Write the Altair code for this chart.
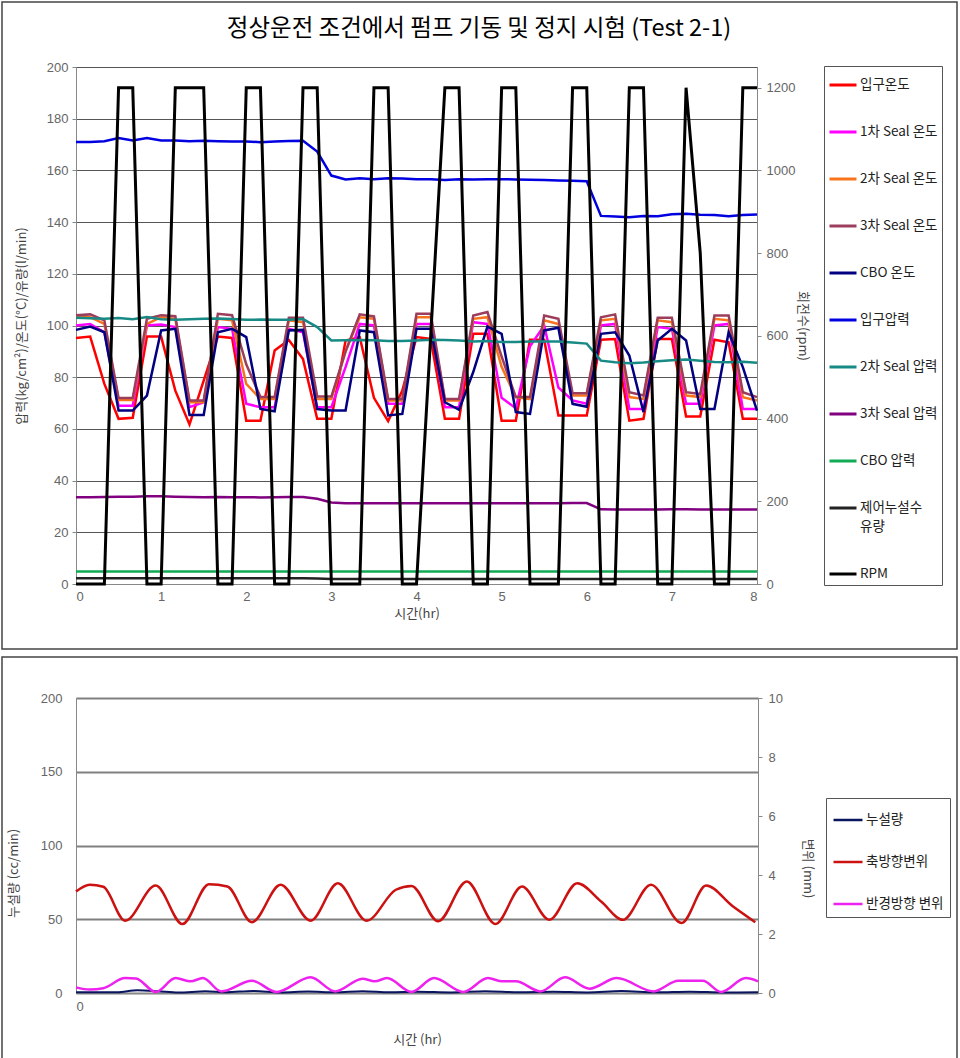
import altair as alt
import pandas as pd

FONT = "'Liberation Sans', 'Noto Sans CJK KR', sans-serif"
KFONT = "'Noto Sans CJK KR', sans-serif"

# ---------------- top panel data (10-minute samples, 0..8 hr) ----------------
minutes = list(range(0, 481, 10))
time_hr = [m / 60 for m in minutes]

inlet_temp = [95.2, 95.7, 77.4, 63.9, 64.3, 95.7, 95.7, 74.8, 61.7, 78.7,
              95.7, 95.2, 63.2, 63.2, 90.3, 94.4, 87.0, 63.9, 63.9, 94.2,
              95.5, 72.0, 63.0, 74.8, 95.5, 94.8, 63.9, 63.9, 96.8, 96.8,
              63.2, 63.2, 94.5, 94.5, 65.2, 65.2, 65.2, 94.5, 94.8, 63.2,
              63.9, 94.8, 94.8, 64.8, 64.8, 94.5, 93.5, 63.9, 63.9]
seal1_temp = [100.0, 100.6, 97.4, 69.0, 69.0, 100.0, 100.4, 99.4, 68.4, 70.3,
              99.4, 98.7, 69.7, 68.4, 68.4, 98.7, 97.4, 68.4, 68.4, 83.9,
              100.6, 100.0, 69.7, 69.7, 100.6, 100.6, 68.4, 68.4, 101.3, 100.6,
              72.0, 68.0, 92.0, 100.0, 76.0, 71.0, 69.7, 100.0, 100.6, 67.7,
              67.7, 99.4, 98.7, 69.7, 69.7, 100.0, 100.6, 67.7, 67.7]
seal2_temp = [103.2, 103.2, 100.6, 71.2, 71.2, 100.6, 103.2, 102.6, 70.3, 70.3,
              102.6, 102.0, 77.4, 71.6, 71.6, 102.0, 101.3, 71.6, 71.6, 90.0,
              103.2, 102.6, 71.0, 71.0, 103.2, 103.2, 71.0, 71.0, 102.6, 103.2,
              84.0, 72.3, 71.5, 102.0, 100.6, 72.9, 72.9, 102.0, 102.6, 72.3,
              71.6, 102.0, 101.3, 72.9, 72.3, 102.6, 102.0, 72.3, 71.0]
seal3_temp = [104.0, 104.3, 102.0, 72.0, 72.0, 102.6, 104.0, 103.6, 71.0, 71.0,
              104.5, 104.0, 85.0, 72.3, 72.3, 103.0, 103.0, 72.5, 72.5, 90.0,
              104.3, 103.5, 71.6, 71.6, 104.5, 104.5, 71.6, 71.6, 103.9, 105.2,
              88.0, 72.3, 72.3, 103.9, 102.6, 73.8, 73.8, 103.2, 104.3, 74.2,
              72.9, 103.0, 103.0, 74.2, 73.5, 103.9, 103.9, 74.2, 72.3]
cbo_temp = [98.3, 99.6, 97.4, 67.1, 67.1, 72.9, 98.1, 98.7, 65.4, 65.4,
            97.4, 98.7, 95.5, 67.7, 66.8, 98.1, 98.3, 67.7, 67.1, 67.1,
            98.1, 97.4, 65.2, 65.8, 98.7, 98.7, 70.3, 67.4, 82.0, 99.6,
            96.8, 66.5, 65.8, 98.1, 99.1, 69.7, 68.6, 96.8, 97.4, 88.4,
            66.5, 94.2, 98.7, 94.2, 67.7, 67.7, 97.4, 83.9, 67.1]
inlet_press = [171.0, 171.0, 171.3, 172.5, 171.6, 172.5, 171.6, 171.6, 171.3, 171.5,
               171.3, 171.2, 171.2, 170.9, 171.2, 171.4, 171.5, 167.3, 158.0, 156.5,
               157.0, 156.6, 157.0, 156.9, 156.6, 156.6, 156.3, 156.6, 156.5, 156.6,
               156.6, 156.5, 156.4, 156.3, 156.1, 156.0, 155.8, 142.4, 142.2, 141.9,
               142.4, 142.3, 143.0, 143.2, 142.8, 142.7, 142.3, 142.7, 142.9]
seal2_press = [103.0, 102.8, 102.6, 102.9, 102.4, 103.3, 102.4, 102.2, 102.4, 102.6,
               102.7, 102.5, 102.2, 102.3, 102.2, 102.2, 102.5, 99.4, 94.2, 94.3,
               94.4, 94.3, 94.0, 94.0, 94.2, 94.5, 94.4, 94.2, 93.8, 94.0,
               93.6, 93.6, 93.8, 93.8, 93.8, 93.4, 93.0, 86.4, 85.8, 85.4,
               85.7, 86.2, 86.6, 86.8, 86.4, 85.9, 85.8, 86.0, 85.6]
seal3_press = [33.6, 33.6, 33.7, 33.8, 33.8, 33.9, 33.9, 33.8, 33.7, 33.6,
               33.7, 33.6, 33.6, 33.5, 33.6, 33.7, 33.7, 33.0, 31.5, 31.2,
               31.2, 31.2, 31.2, 31.2, 31.2, 31.2, 31.2, 31.2, 31.2, 31.2,
               31.2, 31.2, 31.2, 31.2, 31.2, 31.3, 31.3, 28.9, 28.8, 28.8,
               28.8, 28.8, 28.9, 28.9, 28.8, 28.8, 28.8, 28.8, 28.8]
cbo_press = [4.8, 4.8, 4.8, 4.8, 4.8, 4.8, 4.8, 4.8, 4.8, 4.8,
             4.8, 4.8, 4.8, 4.8, 4.8, 4.8, 4.8, 4.8, 4.8, 4.8,
             4.8, 4.8, 4.8, 4.8, 4.8, 4.8, 4.8, 4.8, 4.8, 4.8,
             4.8, 4.8, 4.8, 4.8, 4.8, 4.8, 4.8, 4.8, 4.8, 4.8,
             4.8, 4.8, 4.8, 4.8, 4.8, 4.8, 4.8, 4.8, 4.8]
leak_flow = [2.2, 2.2, 2.2, 2.2, 2.2, 2.2, 2.2, 2.2, 2.2, 2.2,
             2.2, 2.2, 2.2, 2.2, 2.2, 2.2, 2.2, 2.1, 1.9, 1.9,
             1.9, 1.9, 1.9, 1.9, 1.9, 1.9, 1.9, 1.9, 1.9, 1.9,
             1.9, 1.9, 1.9, 1.9, 1.9, 1.9, 1.9, 1.9, 1.9, 1.9,
             1.9, 1.9, 1.9, 1.9, 1.9, 1.9, 1.9, 1.9, 1.9]
rpm = [0, 0, 0, 1200, 1200, 0, 0, 1200, 1200, 1200,
       0, 0, 1200, 1200, 0, 0, 1200, 1200, 0, 0,
       0, 1200, 1200, 0, 0, 600, 1200, 1200, 0, 0,
       1200, 1200, 0, 0, 0, 1200, 1200, 0, 0, 1200,
       1200, 0, 0, 1200, 800, 0, 0, 1200, 1200]

top_names = ['입구온도', '1차 Seal 온도', '2차 Seal 온도', '3차 Seal 온도', 'CBO 온도',
             '입구압력', '2차 Seal 압력', '3차 Seal 압력', 'CBO 압력', '제어누설수 유량', 'RPM']
top_colors = ['#ff0000', '#ff00ff', '#f7731c', '#9b3d5b', '#000080',
              '#0000e0', '#178a85', '#800080', '#11aa55', '#222222', '#000000']
top_series = [inlet_temp, seal1_temp, seal2_temp, seal3_temp, cbo_temp,
              inlet_press, seal2_press, seal3_press, cbo_press, leak_flow, rpm]

rows = []
for name, vals in zip(top_names, top_series):
    side = 'right' if name == 'RPM' else 'left'
    for t, v in zip(time_hr, vals):
        rows.append({'t': t, 'series': name, 'value': v, 'side': side})
df_top = pd.DataFrame(rows)

# ---------------- bottom panel data ----------------
axial_t = [0.0, 0.16, 0.32, 0.576, 0.936, 1.248, 1.56, 1.776, 2.064, 2.4,
           2.752, 3.072, 3.408, 3.752, 3.936, 4.248, 4.584, 4.92, 5.232, 5.552,
           5.88, 6.16, 6.416, 6.744, 7.104, 7.392, 7.7, 7.968]
axial_mm = [3.44, 3.67, 3.60, 2.45, 3.64, 2.34, 3.69, 3.61, 2.40, 3.67,
            2.45, 3.72, 2.45, 3.50, 3.63, 2.43, 3.78, 2.34, 3.61, 2.48,
            3.72, 3.10, 2.48, 3.67, 2.37, 3.64, 2.95, 2.40]
radial_t = [0.0, 0.16, 0.32, 0.576, 0.704, 0.936, 1.168, 1.344, 1.488, 1.704,
            2.064, 2.352, 2.752, 3.04, 3.36, 3.504, 3.648, 3.936, 4.2, 4.544,
            4.832, 5.0, 5.16, 5.448, 5.736, 6.024, 6.344, 6.776, 7.064, 7.352,
            7.568, 7.856, 8.0]
radial_mm = [0.19, 0.115, 0.16, 0.505, 0.49, 0.035, 0.505, 0.395, 0.505, 0.055,
             0.415, 0.035, 0.53, 0.055, 0.485, 0.395, 0.505, 0.035, 0.505, 0.035,
             0.505, 0.395, 0.395, 0.055, 0.53, 0.145, 0.505, 0.055, 0.415, 0.415,
             0.035, 0.505, 0.395]
leak_t = [0.0, 0.48, 0.72, 0.96, 1.2, 1.52, 1.76, 2.08, 2.4, 2.72,
          3.04, 3.36, 3.68, 4.0, 4.4, 4.8, 5.2, 5.6, 6.0, 6.4,
          6.8, 7.2, 7.6, 8.0]
leak_cc = [0.5, 0.5, 1.8, 1.2, 0.3, 1.2, 0.5, 1.4, 0.4, 1.0,
           0.5, 1.2, 0.5, 0.8, 0.4, 1.2, 0.5, 0.8, 0.4, 1.3,
           0.5, 0.9, 0.4, 0.5]

bot_names = ['누설량', '축방향변위', '반경방향 변위']
bot_colors = ['#0a1560', '#cc1111', '#ee22ee']
rows = []
for t, v in zip(leak_t, leak_cc):
    rows.append({'t': t, 'series': '누설량', 'value': v, 'side': 'left'})
for t, v in zip(axial_t, axial_mm):
    rows.append({'t': t, 'series': '축방향변위', 'value': v, 'side': 'right'})
for t, v in zip(radial_t, radial_mm):
    rows.append({'t': t, 'series': '반경방향 변위', 'value': v, 'side': 'right'})
df_bot = pd.DataFrame(rows)

one = alt.Data(values=[{}])

# ---------------- top panel ----------------
TW, TH = 681, 517
x_top = alt.X('t:Q', scale=alt.Scale(domain=[0, 8], nice=False),
              axis=alt.Axis(values=list(range(9)), title='시간(hr)', grid=False, ticks=False,
                            labelPadding=6, titlePadding=4, domainColor='#888'))
top_legend = alt.Legend(title=None, orient='none', legendX=748, legendY=-1,
                        symbolType='stroke', symbolSize=729, symbolStrokeWidth=3,
                        labelFont=KFONT, labelFontSize=13.5, labelColor='#222', labelOffset=2,
                        labelLimit=200, strokeColor='#555', padding=4, rowPadding=25,
                        labelExpr="datum.label == '제어누설수 유량' ? ['제어누설수', '유량'] : datum.label")
color_top = alt.Color('series:N', scale=alt.Scale(domain=top_names, range=top_colors), legend=top_legend)

top_left = alt.Chart(df_top).transform_filter(alt.datum.side == 'left').mark_line(strokeWidth=2.5).encode(
    x=x_top,
    y=alt.Y('value:Q', scale=alt.Scale(domain=[0, 200], nice=False),
            axis=alt.Axis(values=list(range(0, 201, 20)), title='압력(kg/cm²)/온도(°C)/유량(l/min)',
                          grid=True, gridColor='#555', gridWidth=1, tickSize=4, tickColor='#888',
                          domainColor='#888', labelPadding=4, titlePadding=18)),
    color=color_top,
)
top_right = alt.Chart(df_top).transform_filter(alt.datum.side == 'right').mark_line(strokeWidth=3).encode(
    x=x_top,
    y=alt.Y('value:Q', scale=alt.Scale(domain=[0, 1250], nice=False),
            axis=alt.Axis(orient='right', values=list(range(0, 1201, 200)), format='d',
                          title='회전수(rpm)', grid=False, tickSize=4, tickColor='#888',
                          domainColor='#888', labelPadding=5, titlePadding=1)),
    color=color_top,
)
top_frame = alt.Chart(one).mark_rect(filled=False, stroke='#444', strokeWidth=1.5).encode(
    x=alt.value(-74), x2=alt.value(881), y=alt.value(-65), y2=alt.value(582))
top_title = alt.Chart(one).mark_text(text='정상운전 조건에서 펌프 기동 및 정지 시험 (Test 2-1)',
                                     font=KFONT, fontSize=23.5, color='#000', align='center',
                                     baseline='middle').encode(x=alt.value(403), y=alt.value(-38))
top = alt.layer(top_left, top_right, top_frame, top_title).resolve_scale(y='independent').properties(
    width=TW, height=TH)

# ---------------- bottom panel ----------------
BW, BH = 682, 295
x_bot = alt.X('t:Q', scale=alt.Scale(domain=[0, 8], nice=False),
              axis=alt.Axis(values=[0], title='시간 (hr)', grid=False, ticks=False,
                            labelPadding=7, titlePadding=20, domainColor='#888'))
bot_legend = alt.Legend(title=None, orient='none', legendX=750, legendY=100,
                        symbolType='stroke', symbolSize=841, symbolStrokeWidth=2.5,
                        labelFont=KFONT, labelFontSize=13.5, labelColor='#222', labelOffset=2,
                        labelLimit=200, strokeColor='#555', padding=6, rowPadding=19)
color_bot = alt.Color('series:N', scale=alt.Scale(domain=bot_names, range=bot_colors), legend=bot_legend)

bot_left = alt.Chart(df_bot).transform_filter(alt.datum.side == 'left').mark_line(
    strokeWidth=2, interpolate='monotone').encode(
    x=x_bot,
    y=alt.Y('value:Q', scale=alt.Scale(domain=[0, 200], nice=False),
            axis=alt.Axis(values=[0, 50, 100, 150, 200], title='누설량 (cc/min)', grid=True,
                          gridColor='#808080', gridWidth=2, ticks=False, domainColor='#888',
                          labelPadding=14, titlePadding=20, titleY=175)),
    color=color_bot,
)
bot_right = alt.Chart(df_bot).transform_filter(alt.datum.side == 'right').mark_line(
    strokeWidth=2.5, interpolate='monotone').encode(
    x=x_bot,
    y=alt.Y('value:Q', scale=alt.Scale(domain=[0, 10], nice=False),
            axis=alt.Axis(orient='right', values=[0, 2, 4, 6, 8, 10], title='변위 (mm)', grid=False,
                          tickSize=4, tickColor='#888', domainColor='#888',
                          labelPadding=6, titlePadding=18, titleY=170)),
    color=color_bot,
)
bot_frame = alt.Chart(one).mark_rect(filled=False, stroke='#444', strokeWidth=1.5).encode(
    x=alt.value(-74), x2=alt.value(881), y=alt.value(-41), y2=alt.value(364))
bottom = alt.layer(bot_left, bot_right, bot_frame).resolve_scale(y='independent').properties(
    width=BW, height=BH)

chart = alt.vconcat(top, bottom, spacing=4, padding={'left': 0, 'top': 0, 'right': 0, 'bottom': 0}
                    ).resolve_scale(color='independent').resolve_legend(color='independent').configure(
    style={'guide-label': {'lineHeight': 19}}).configure_view(stroke='#888').configure_axis(
    labelFont=FONT, labelFontSize=13, labelColor='#666', titleFont=KFONT, titleFontSize=13,
    titleColor='#444', titleFontWeight='normal')

chart.save("out.html", embed_options={"renderer": "svg", "actions": False})
